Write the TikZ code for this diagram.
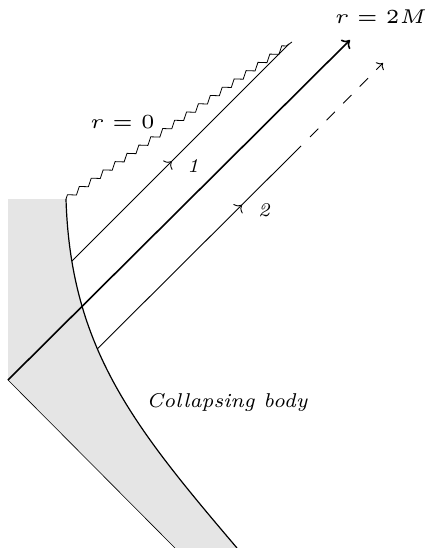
\documentclass[tikz,border=0pt]{standalone}
\usetikzlibrary{arrows.meta,decorations.markings,decorations.pathmorphing,intersections}
\begin{document}
\begin{tikzpicture}[x=1pt,y=-1pt,
  ray/.style={line width=0.9pt},
  midarrow/.style={postaction={decorate},decoration={markings,mark=at position #1 with {\arrow{To[length=6pt,width=13pt]}}}},
  lbl/.style={inner sep=0pt}]
\useasboundingbox (0,0) rectangle (430,548);
% named points
\coordinate (TL) at (8,199);
\coordinate (BT) at (66,199);
\coordinate (C) at (8,380);
\coordinate (BL) at (175,548);
\coordinate (BR) at (237,548);
\coordinate (E1) at (289,44);
\coordinate (H) at (350,40);
\coordinate (D0) at (301,146);
\coordinate (D1) at (310,137);
\coordinate (D2) at (383,63);
\coordinate (Z) at (292,42);
% body boundary and ray feet
\path[name path=body] (BT) .. controls (70.5,349) and (135,428) .. (BR);
\path[name path=r1] (30,303) -- (E1);
\path[name path=r2] (60,386) -- (D0);
\path[name intersections={of=body and r1,by=S1}];
\path[name intersections={of=body and r2,by=S2}];
% body fill
\fill[black!10] (TL) -- (BT) .. controls (70.5,349) and (135,428) .. (BR) -- (BL) -- (C) -- cycle;
\draw[line width=1.2pt] (BT) .. controls (70.5,349) and (135,428) .. (BR);
% lower boundary
\draw[line width=0.6pt] (C) -- (BL);
% singularity
\draw[line width=0.8pt,decorate,decoration={zigzag,segment length=14.5pt,amplitude=2.7pt}] (BT) -- (Z);
% horizon
\draw[line width=1.6pt,-{To[length=7pt,width=13pt]}] (C) -- (H);
% ray 1
\draw[ray,midarrow=0.46] (S1) -- (E1);
% ray 2
\draw[ray,midarrow=0.71] (S2) -- (D0);
\draw[ray,dash pattern=on 11.8pt off 11.8pt,-{To[length=5pt,width=11pt]}] (D1) -- (D2);
% labels
\node[lbl] (l0) at (122.5,122) {\scalebox{4}{\tiny $r=0$}};
\node[lbl] (l2M) at (381,17) {\scalebox{4}{\tiny $r=2M$}};
\node[lbl] (lb) at (227,403) {\scalebox{4}{\tiny\itshape Collapsing body}};
\node[lbl] (n1) at (193,166) {\scalebox{3.9}{\tiny\itshape 1}};
\node[lbl] (n2) at (264,210) {\scalebox{3.9}{\tiny\itshape 2}};
\end{tikzpicture}
\end{document}
